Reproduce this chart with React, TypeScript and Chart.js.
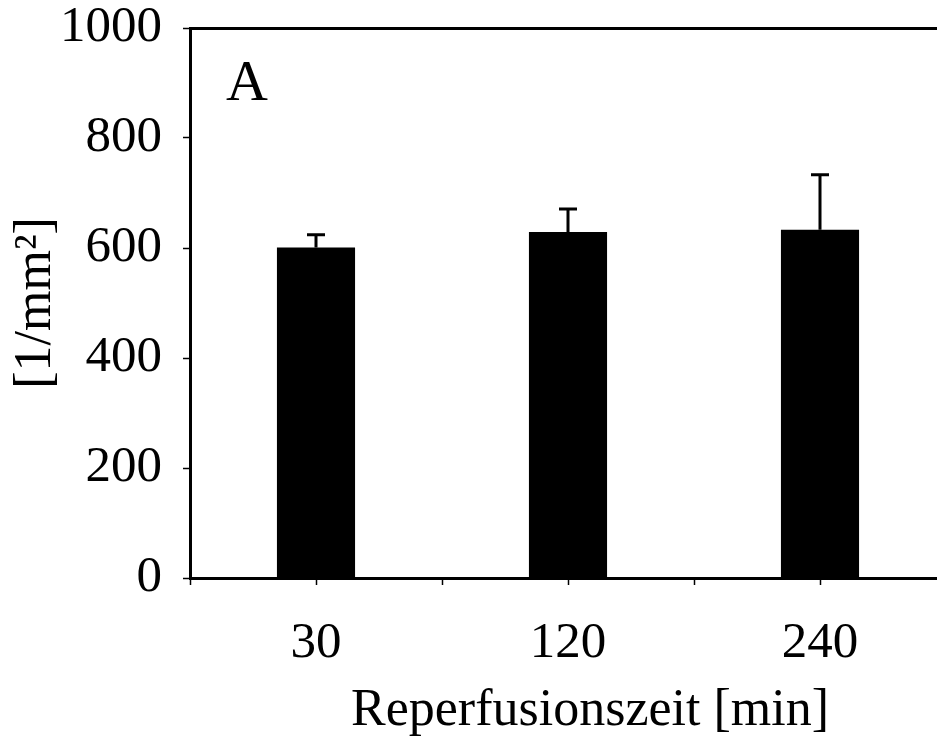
import React, { useEffect, useRef } from "react";
import { Chart, registerables } from "chart.js";

Chart.register(...registerables);

const categories = ["30", "120", "240"];
const means = [601, 629, 633];
const errors = [23, 42, 100];
const yTicks = [0, 200, 400, 600, 800, 1000];
const panelLabel = "A";
const xTitle = "Reperfusionszeit [min]";
const yTitle = "[1/mm²]";

const FONT = "'Liberation Serif', 'Times New Roman', serif";

const errorBarsPlugin = {
  id: "errorBars",
  afterDatasetsDraw(chart: any) {
    const meta = chart.getDatasetMeta(0);
    const yScale = chart.scales.y;
    const ctx = chart.ctx;
    ctx.save();
    ctx.strokeStyle = "#000";
    ctx.lineWidth = 3;
    meta.data.forEach((bar: any, i: number) => {
      const top = yScale.getPixelForValue(means[i] + errors[i]);
      ctx.beginPath();
      ctx.moveTo(bar.x, bar.y);
      ctx.lineTo(bar.x, top);
      ctx.moveTo(bar.x - 9, top);
      ctx.lineTo(bar.x + 9, top);
      ctx.stroke();
    });
    ctx.restore();
  },
};

const textPlugin = {
  id: "panelText",
  afterDraw(chart: any) {
    const { ctx, chartArea } = chart;
    ctx.save();
    ctx.fillStyle = "#000";
    ctx.textBaseline = "alphabetic";
    ctx.textAlign = "left";
    ctx.font = `58px ${FONT}`;
    ctx.fillText(panelLabel, chartArea.left + 36, chartArea.top + 71.5);
    ctx.textAlign = "center";
    ctx.font = `52px ${FONT}`;
    ctx.fillText(xTitle, (chartArea.left + chartArea.right) / 2 + 22, chartArea.bottom + 147);
    ctx.restore();
  },
};

export default function App() {
  const ref = useRef<HTMLCanvasElement | null>(null);

  useEffect(() => {
    if (!ref.current) return;
    const chart = new Chart(ref.current, {
      type: "bar",
      data: {
        datasets: [
          {
            data: categories.map((c, i) => ({ x: i + 0.5, y: means[i] })) as any,
            backgroundColor: "#000",
            borderWidth: 0,
            categoryPercentage: 0.62,
            barPercentage: 1,
          },
        ],
      },
      options: {
        responsive: false,
        animation: false,
        devicePixelRatio: 1,
        layout: { padding: { left: 0, right: 14, top: 28, bottom: 0 } },
        plugins: { legend: { display: false }, tooltip: { enabled: false } },
        scales: {
          x: {
            type: "linear",
            min: 0,
            max: 3,
            offset: false,
            ticks: {
              stepSize: 0.5,
              autoSkip: false,
              maxRotation: 0,
              color: "#000",
              font: { family: FONT, size: 51 },
              padding: 28,
              callback: (v: any) => {
                const i = Number(v) - 0.5;
                return Number.isInteger(i) ? categories[i] : "";
              },
            },
            grid: {
              offset: false,
              drawOnChartArea: false,
              drawTicks: true,
              tickLength: 7,
              tickColor: "#000",
              tickWidth: 1.5,
            },
            border: { display: true, color: "#000", width: 3 },
            title: { display: false },
            afterFit: (s: any) => {
              s.height = 162;
              s.paddingLeft = 0;
              s.paddingRight = 0;
            },
          } as any,
          y: {
            min: 0,
            max: 1000,
            afterBuildTicks: (s: any) => {
              s.ticks = yTicks.map((v) => ({ value: v }));
            },
            ticks: {
              color: "#000",
              font: { family: FONT, size: 51, lineHeight: 1 },
              padding: 21,
              callback: (v: any) => String(v),
            },
            grid: {
              color: (ctx: any) =>
                ctx.tick && ctx.tick.value === 1000 ? "#000" : "rgba(0,0,0,0)",
              lineWidth: (ctx: any) =>
                ctx.tick && ctx.tick.value === 1000 ? 3 : 1,
              drawTicks: true,
              tickLength: 7,
              tickColor: "#000",
              tickWidth: 1.5,
            },
            border: { display: true, color: "#000", width: 3 },
            title: {
              display: true,
              text: yTitle,
              color: "#000",
              font: { family: FONT, size: 52, lineHeight: 1 },
              padding: { top: 10, bottom: 0 },
            },
            afterFit: (s: any) => {
              s.width = 190;
              s.paddingTop = 0;
              s.paddingBottom = 0;
            },
          } as any,
        },
      },
      plugins: [errorBarsPlugin, textPlugin],
    });
    return () => chart.destroy();
  }, []);

  return (
    <div
      style={{
        position: "fixed",
        left: 0,
        top: 0,
        width: 937,
        height: 740,
        overflow: "hidden",
        background: "#fff",
      }}
    >
      <canvas ref={ref} width={960} height={740} style={{ display: "block" }} />
    </div>
  );
}
